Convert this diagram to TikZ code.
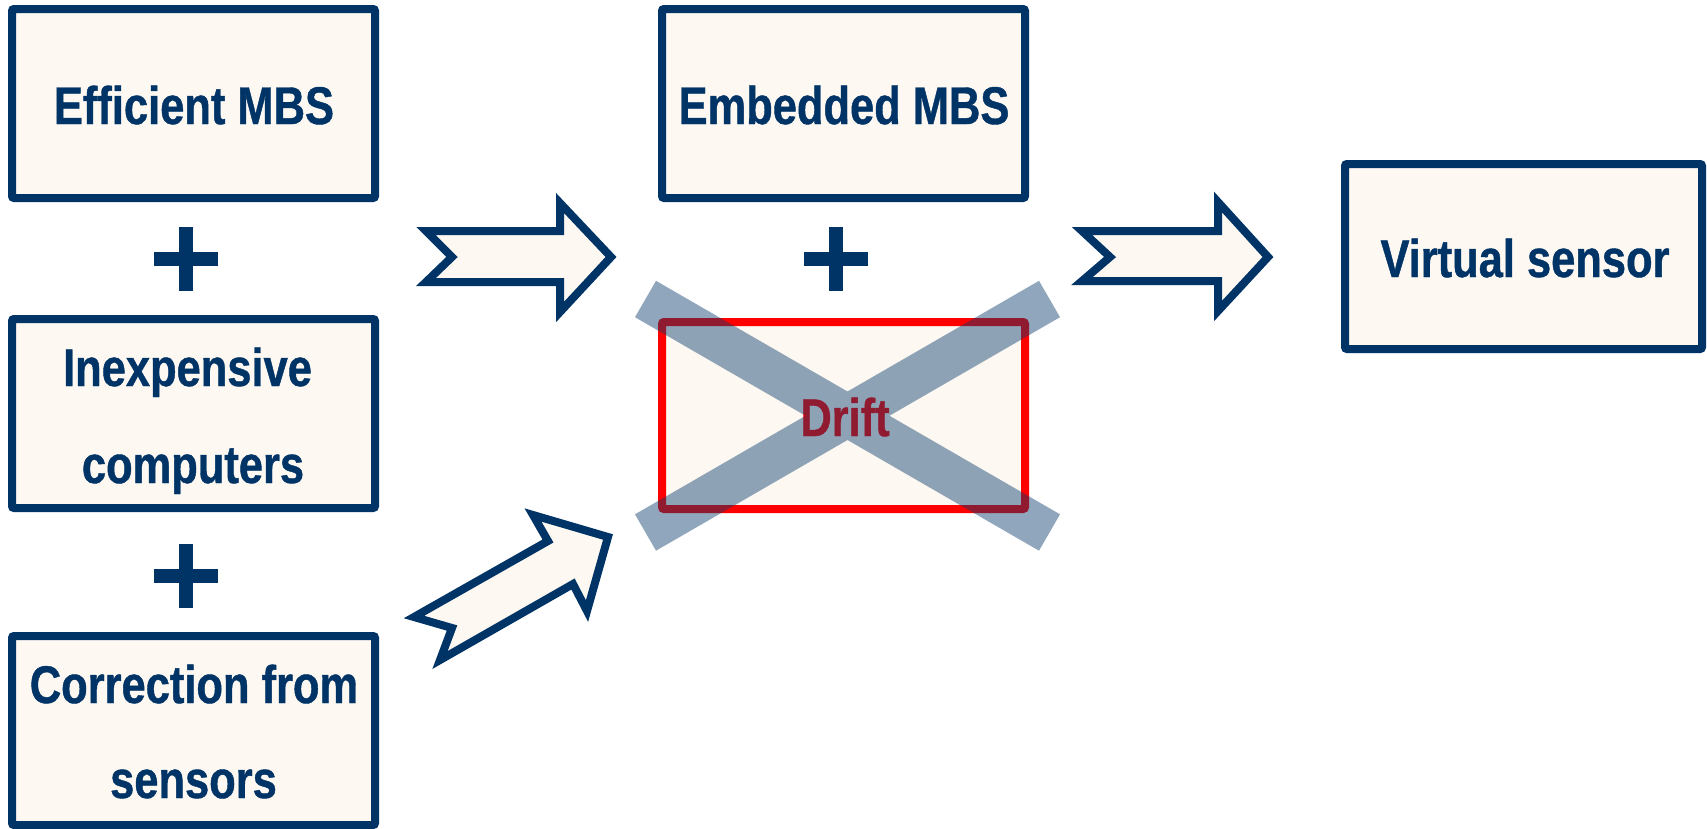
\documentclass[tikz,border=0pt]{standalone}
\usepackage{fontspec}
\newfontfamily\arn[FakeStretch=0.82,BoldFeatures={FakeBold=0.8}]{Liberation Sans}
\definecolor{dblue}{RGB}{0,51,102}
\definecolor{cream}{RGB}{253,248,242}
\definecolor{xblue}{RGB}{9,58,107}
\begin{document}
\begin{tikzpicture}[x=1pt,y=-1pt,
  box/.style={rectangle,draw=dblue,line width=8pt,fill=cream,inner sep=0pt,
    minimum width=363pt,minimum height=189pt,rounded corners=2pt},
  txt/.style={anchor=base,inner sep=0pt,text=dblue,font=\arn\bfseries\fontsize{53}{97}\selectfont},
  blockarrow/.style={draw=dblue,fill=cream,line width=8pt,line join=miter},
  plusbar/.style={draw=dblue,line width=14pt,line cap=butt}
]
\useasboundingbox (0,0) rectangle (1707,828);

% boxes
\node[box] (b1) at (193.5,103.5) {};
\node[box] (b2) at (193.5,413.5) {};
\node[box] (b3) at (193.5,730.5) {};
\node[box] (emb) at (843.5,103.5) {};
\node[box,draw=red,minimum height=187pt] (drift) at (843.5,415.5) {};
\node[box,minimum width=357pt,minimum height=185pt] (vs) at (1523.5,256.5) {};

% texts
\node[txt] (t1) at (194,124) {Efficient MBS};
\node[txt] (t2a) at (187.5,386) {Inexpensive};
\node[txt] (t2b) at (193,483) {computers};
\node[txt] (t3a) at (194,703) {Correction from};
\node[txt] (t3b) at (193.5,798) {sensors};
\node[txt] (t4) at (844,124) {Embedded MBS};
\node[txt,text=red] (t5) at (845,436) {Drift};
\node[txt] (t6) at (1525,277) {Virtual sensor};

% plus signs
\foreach \cx/\cy in {186/259, 186/576, 836/259}{
  \draw[plusbar] (\cx-32,\cy) -- (\cx+32,\cy);
  \draw[plusbar] (\cx,\cy-32) -- (\cx,\cy+32);
}

% block arrows
\draw[blockarrow] (426,231) -- (452,257) -- (426,282) -- (560,282) -- (560,312)
  -- (611,257) -- (560,203) -- (560,231) -- cycle;
\draw[blockarrow] (1082,231) -- (1110,257) -- (1082,281) -- (1218,281) -- (1218,311)
  -- (1268,257) -- (1218,202) -- (1218,231) -- cycle;
\draw[blockarrow] (414,617) -- (452,628) -- (440,660) -- (573,584) -- (587,611)
  -- (608,537) -- (533,515) -- (548,541) -- cycle;

% cross over drift
\coordinate (xa) at (645.5,299);
\coordinate (xb) at (1049.5,532.5);
\coordinate (xc) at (645.5,532.5);
\coordinate (xd) at (1049.5,299);
\begin{scope}[transparency group,opacity=0.45]
  \draw[xblue,line width=42pt,line cap=butt] (xa) -- (xb);
  \draw[xblue,line width=42pt,line cap=butt] (xc) -- (xd);
\end{scope}
\end{tikzpicture}
\end{document}
